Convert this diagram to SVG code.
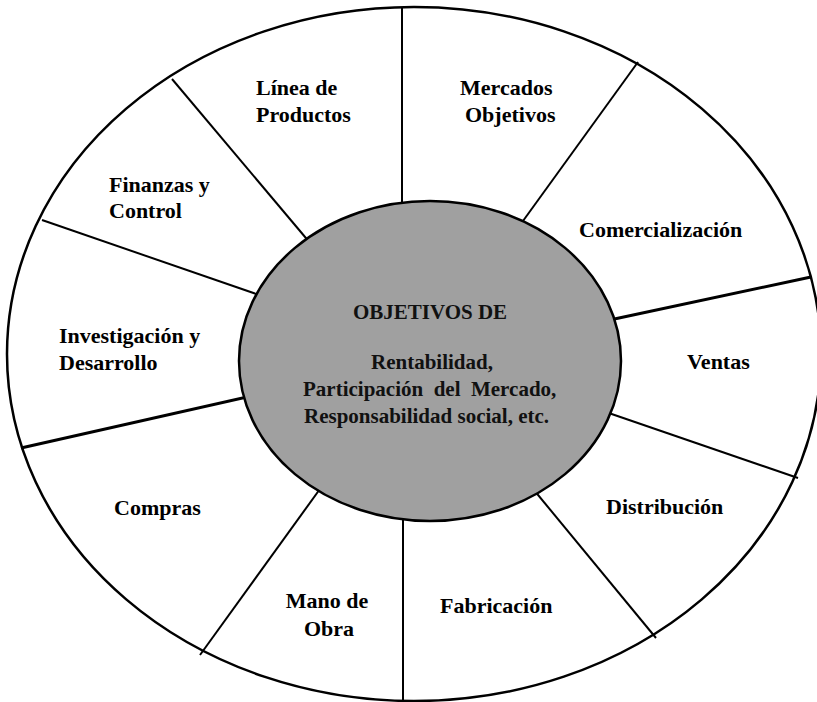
<svg xmlns="http://www.w3.org/2000/svg" width="817" height="702" viewBox="0 0 817 702">
  <style>
    .rim { fill: #ffffff; stroke: #000000; stroke-width: 2.5; }
    .spoke { stroke: #000000; stroke-width: 2; fill: none; }
    .spoke.heavy { stroke-width: 3; }
    .hub { fill: #a0a0a0; stroke: #000000; stroke-width: 2.5; }
    .lbl { font-family: 'Liberation Serif', 'Times New Roman', serif; font-weight: 700; font-size: 22px; fill: #000000; }
    .hubtxt { font-family: 'Liberation Serif', 'Times New Roman', serif; font-weight: 700; font-size: 21px; fill: #111111; }
  </style>

  <rect x="0" y="0" width="817" height="702" fill="#ffffff"/>

  <!-- outer wheel -->
  <ellipse id="wheel" class="rim" cx="414" cy="354" rx="407" ry="347"/>

  <!-- spokes dividing the wheel into functional areas -->
  <g id="connectors">
    <line class="spoke" x1="402" y1="7" x2="402" y2="215"/>
    <line class="spoke" x1="172" y1="79" x2="316" y2="250"/>
    <line class="spoke" x1="42" y1="220" x2="265" y2="297"/>
    <line class="spoke" x1="638" y1="62" x2="515" y2="232"/>
    <line class="spoke heavy" x1="811" y1="277" x2="605" y2="321"/>
    <line class="spoke heavy" x1="21" y1="448" x2="256" y2="395"/>
    <line class="spoke" x1="200" y1="655" x2="325" y2="482"/>
    <line class="spoke" x1="403" y1="505" x2="403" y2="701"/>
    <line class="spoke" x1="529" y1="484" x2="656" y2="638"/>
    <line class="spoke" x1="600" y1="410" x2="798" y2="478"/>
  </g>

  <!-- central objectives -->
  <g id="objetivos">
    <ellipse class="hub" cx="430" cy="361" rx="191" ry="160"/>
    <text class="hubtxt" x="430" y="319" text-anchor="middle">OBJETIVOS DE</text>
    <text class="hubtxt" x="432" y="369" text-anchor="middle">Rentabilidad,</text>
    <text class="hubtxt" x="303" y="396" xml:space="preserve">Participación  del  Mercado,</text>
    <text class="hubtxt" x="304" y="423">Responsabilidad social, etc.</text>
  </g>

  <g id="linea-productos">
    <text class="lbl" x="256" y="95">Línea de</text>
    <text class="lbl" x="256" y="122">Productos</text>
  </g>

  <g id="mercados-objetivos">
    <text class="lbl" x="460" y="95">Mercados</text>
    <text class="lbl" x="465" y="122">Objetivos</text>
  </g>

  <g id="comercializacion">
    <text class="lbl" x="579" y="237">Comercialización</text>
  </g>

  <g id="ventas">
    <text class="lbl" x="687" y="369">Ventas</text>
  </g>

  <g id="distribucion">
    <text class="lbl" x="606" y="514">Distribución</text>
  </g>

  <g id="fabricacion">
    <text class="lbl" x="440" y="613">Fabricación</text>
  </g>

  <g id="mano-obra">
    <text class="lbl" x="327" y="608" text-anchor="middle">Mano de</text>
    <text class="lbl" x="329" y="636" text-anchor="middle">Obra</text>
  </g>

  <g id="compras">
    <text class="lbl" x="114" y="515">Compras</text>
  </g>

  <g id="investigacion-desarrollo">
    <text class="lbl" x="59" y="343">Investigación y</text>
    <text class="lbl" x="59" y="370">Desarrollo</text>
  </g>

  <g id="finanzas-control">
    <text class="lbl" x="109" y="192">Finanzas y</text>
    <text class="lbl" x="109" y="218">Control</text>
  </g>
</svg>
